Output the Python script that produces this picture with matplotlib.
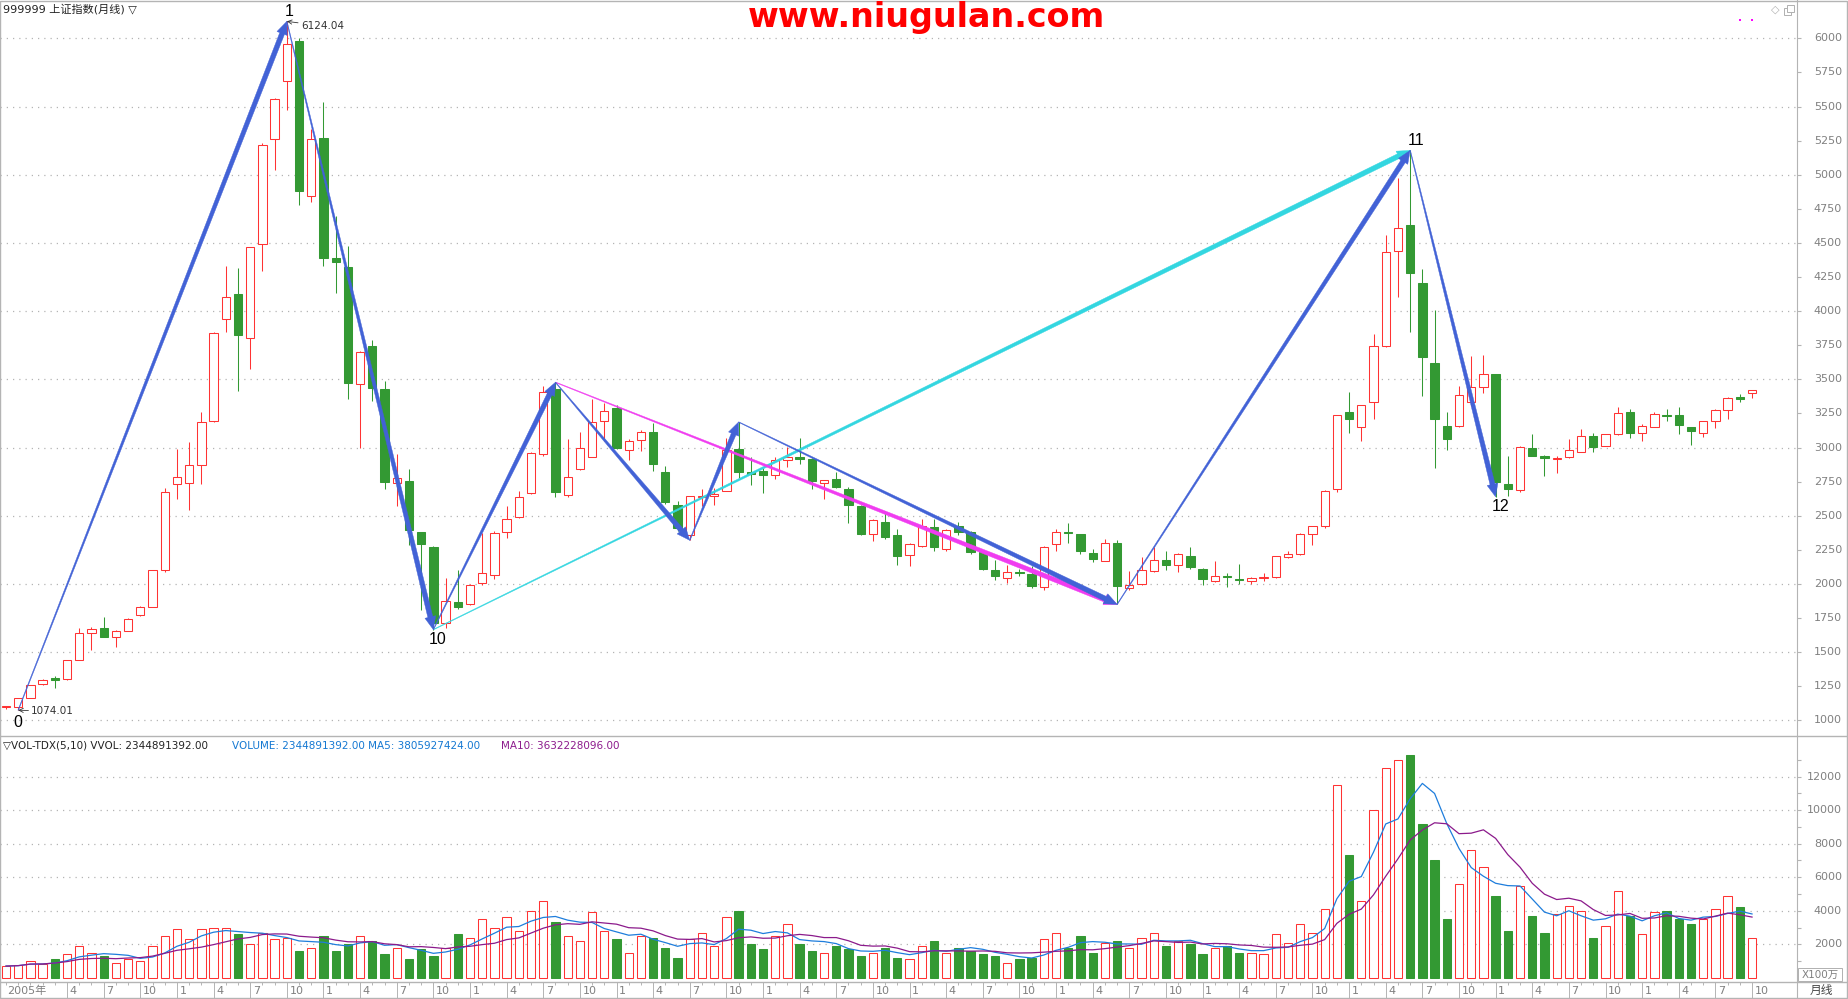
import numpy as np
import pandas as pd
import matplotlib
matplotlib.use("Agg")
import matplotlib.pyplot as plt
from matplotlib.patches import Rectangle, Polygon
from matplotlib.lines import Line2D

plt.rcParams['font.family'] = ['DejaVu Sans', 'Noto Sans CJK SC']

# monthly bars 2005-11 .. 2017-10
months = pd.period_range('2005-11', '2017-10', freq='M')

opens = [1096, 1099,
         1163, 1265, 1300, 1300, 1445, 1637, 1675, 1613, 1658, 1772, 1834, 2099,
         2733, 2743, 2874, 3194, 3941, 4127, 3803, 4492, 5263, 5687, 5979, 4843,
         5267, 4392, 4323, 3463, 3745, 3428, 2743, 2753, 2381, 2271, 1715, 1868,
         1854, 2007, 2063, 2378, 2490, 2666, 2951, 3427, 2649, 2841, 2934, 3195,
         3288, 2983, 3056, 3117, 2822, 2580, 2361, 2636, 2641, 2683, 2988, 2812,
         2829, 2800, 2910, 2929, 2915, 2739, 2771, 2695, 2568, 2368, 2454, 2360,
         2210, 2280, 2416, 2255, 2421, 2377, 2234, 2102, 2044, 2090, 2075, 1978,
         2294, 2380, 2365, 2226, 2170, 2299, 1971, 2000, 2093, 2178, 2136, 2207,
         2112, 2019, 2055, 2032, 2019, 2044, 2051, 2197, 2219, 2365, 2421, 2695,
         3258, 3148, 3331, 3745, 4437, 4632, 4208, 3616, 3158, 3158, 3336, 3441,
         3538, 2732, 2690, 2995, 2941, 2914, 2929, 2970, 3085, 3014, 3100, 3258,
         3104, 3153, 3238, 3238, 3148, 3104, 3192, 3275, 3372, 3402]
highs = [1104, 1165,
         1262, 1303, 1324, 1445, 1678, 1686, 1757, 1662, 1752, 1840, 2101, 2701,
         2987, 3039, 3263, 3848, 4330, 4316, 4471, 5232, 5560, 6124.04, 6005, 5336,
         5532, 4699, 4478, 3707, 3790, 3487, 2949, 2839, 2381, 2275, 2047, 2105,
         2000, 2373, 2385, 2568, 2683, 2965, 3451, 3478.01, 3063, 3117, 3354, 3329,
         3312, 3060, 3125, 3178, 2866, 2605, 2645, 2695, 2702, 3068, 3186.72, 2934,
         2850, 2934, 3002, 3068, 2925, 2765, 2824, 2710, 2575, 2475, 2532, 2400,
         2300, 2478, 2477, 2405, 2453, 2385, 2240, 2178, 2136, 2112, 2129, 2276,
         2400, 2445, 2365, 2255, 2330, 2319, 2092, 2195, 2268, 2243, 2230, 2268,
         2120, 2170, 2080, 2148, 2052, 2080, 2205, 2238, 2370, 2425, 2686, 3240,
         3404, 3312, 3830, 4561, 4976, 5178.19, 4310, 4006, 3258, 3450, 3670, 3677,
         3540, 2939, 3010, 3100, 2945, 2935, 3061, 3134, 3109, 3100, 3294, 3282,
         3170, 3258, 3282, 3299, 3150, 3195, 3280, 3370, 3392, 3421]
lows = [1082, 1074.01,
        1160, 1258, 1238, 1295, 1440, 1514, 1610, 1541, 1655, 1768, 1830, 2089,
        2619, 2543, 2729, 3190, 3848, 3414, 3573, 4292, 5036, 5473, 4778, 4802,
        4330, 4130, 3356, 2994, 3339, 2698, 2571, 2288, 1806, 1664.93, 1679, 1814,
        1844, 1995, 2037, 2337, 2481, 2660, 2940, 2639, 2639, 2835, 2930, 3049,
        2990, 2905, 2978, 2827, 2588, 2385, 2319.74, 2568, 2578, 2680, 2774, 2727,
        2666, 2768, 2856, 2878, 2695, 2622, 2700, 2446, 2360, 2312, 2330, 2137,
        2132, 2270, 2243, 2242, 2360, 2220, 2100, 2030, 2007, 2061, 1971, 1959,
        2243, 2299, 2220, 2160, 2165, 1849.65, 1959, 1995, 2088, 2100, 2085, 2110,
        1990, 2015, 1974, 2002, 2000, 2024, 2045, 2190, 2210, 2282, 2410, 2671,
        3104, 3051, 3207, 3740, 4103, 3847, 3380, 2853, 2982, 3150, 3307, 3402,
        2638.30, 2641, 2671, 2935, 2788, 2812, 2925, 2965, 2970, 3010, 3095, 3073,
        3051, 3150, 3197, 3100, 3019, 3080, 3146, 3207, 3336, 3360]
closes = [1099, 1161,
          1258, 1292, 1298, 1440, 1641, 1672, 1613, 1658, 1745, 1834, 2099, 2671,
          2781, 2874, 3184, 3838, 4106, 3827, 4471, 5215, 5552, 5955, 4878, 5260,
          4389, 4361, 3476, 3697, 3438, 2746, 2777, 2398, 2295, 1715, 1875, 1832,
          1993, 2080, 2373, 2476, 2634, 2959, 3410, 2671, 2783, 2995, 3190, 3271,
          2993, 3051, 3112, 2878, 2598, 2410, 2641, 2641, 2658, 2983, 2824, 2807,
          2795, 2910, 2929, 2919, 2751, 2759, 2707, 2576, 2366, 2466, 2344, 2202,
          2293, 2428, 2268, 2397, 2380, 2234, 2107, 2056, 2085, 2080, 1983, 2270,
          2384, 2374, 2238, 2183, 2299, 1983, 1995, 2105, 2178, 2141, 2219, 2122,
          2039, 2061, 2051, 2029, 2044, 2051, 2202, 2219, 2365, 2421, 2681, 3236,
          3212, 3309, 3745, 4432, 4608, 4279, 3665, 3209, 3060, 3382, 3441, 3536,
          2744, 2695, 3002, 2941, 2922, 2926, 2982, 3085, 3007, 3097, 3251, 3109,
          3158, 3243, 3230, 3163, 3124, 3192, 3275, 3365, 3353, 3419]
# volume, x100万
volumes = [700, 750,
           1000, 850, 1100, 1400, 1900, 1500, 1300, 900, 1100, 1000, 1900, 2500,
           2900, 2300, 2900, 3000, 3000, 2600, 2000, 2700, 2300, 2400, 1600, 1800,
           2500, 1600, 2000, 2500, 2200, 1400, 1800, 1100, 1700, 1300, 1800, 2600,
           2400, 3500, 3000, 3600, 2800, 4000, 4600, 3300, 2500, 2200, 3900, 2800,
           2300, 1500, 2500, 2400, 1800, 1200, 2300, 2700, 1900, 3600, 4000, 2000,
           1700, 2500, 3200, 2000, 1600, 1500, 1900, 1700, 1300, 1500, 1800, 1200,
           1100, 1900, 2200, 1500, 1800, 1600, 1400, 1300, 900, 1100, 1200, 2300,
           2700, 1800, 2500, 1500, 2100, 2200, 1800, 2400, 2700, 1900, 2200, 2000,
           1400, 1800, 1900, 1500, 1500, 1400, 2600, 2100, 3200, 2700, 4100, 11500,
           7300, 4600, 10000, 12500, 13000, 13300, 9200, 7000, 3500, 5600, 7600, 6600,
           4900, 2800, 5500, 3700, 2700, 3800, 4300, 4000, 2400, 3100, 5200, 3700,
           2600, 3900, 4000, 3500, 3200, 3500, 4100, 4900, 4200, 2345]

# zigzag turning points (month, price)
pivot_names = ['0', '1', '10', 'a', 'b', 'c', 'd', '11', '12']
pivot_months = ['2005-12', '2007-10', '2008-10', '2009-08', '2010-07',
                '2010-11', '2013-06', '2015-06', '2016-01']
pivot_prices = [1074.01, 6124.04, 1664.93, 3478.01, 2319.74,
                3186.72, 1849.65, 5178.19, 2638.30]
blue_legs = [('0', '1'), ('1', '10'), ('10', 'a'), ('a', 'b'), ('b', 'c'),
             ('c', 'd'), ('d', '11'), ('11', '12')]
pink_legs = [('a', 'd')]
cyan_legs = [('10', '11')]

RED = '#ff3333'
GREEN = '#339933'
GREY = '#808080'
GRID = '#b4b4b4'
BLUE_ARROW = '#4262d6'

W, H = 1848, 999
fig = plt.figure(figsize=(W / 100, H / 100), dpi=100)
fig.patch.set_facecolor('white')


def box(x0, y0, x1, y1):
    return [x0 / W, 1 - y1 / H, (x1 - x0) / W, (y1 - y0) / H]


AXR = 1797
ax = fig.add_axes(box(0, 0, AXR, 736))
axv = fig.add_axes(box(0, 736, AXR, 982))
axd = fig.add_axes(box(0, 982, AXR, 998))

n = len(months)
x = np.arange(n)
step = 12.21
xlim = (-6 / step, (AXR - 6) / step)
for a in (ax, axv, axd):
    a.set_xlim(*xlim)
    a.set_facecolor('white')
    for s in ('top', 'left', 'bottom'):
        a.spines[s].set_visible(False)
    a.spines['right'].set_color(GRID)
    a.set_xticks([])
ax.set_ylim(885, 6000 + 38.3 / 0.1364)
axv.set_ylim(-251, 14429)
axd.set_ylim(0, 1)
axd.set_yticks([])

bw = 0.68
lw = 0.75
for i in range(n):
    o, h, l, c = opens[i], highs[i], lows[i], closes[i]
    top, bot = max(o, c), min(o, c)
    if c >= o:
        ax.vlines(i, top, h, color=RED, lw=lw)
        ax.vlines(i, l, bot, color=RED, lw=lw)
        ax.add_patch(Rectangle((i - bw / 2, bot), bw, max(top - bot, 8),
                               fc='white', ec=RED, lw=lw, zorder=3))
        axv.add_patch(Rectangle((i - bw / 2, 0), bw, volumes[i],
                                fc='white', ec=RED, lw=lw, zorder=2))
    else:
        ax.vlines(i, l, h, color=GREEN, lw=lw)
        ax.add_patch(Rectangle((i - bw / 2, bot), bw, max(top - bot, 10),
                               fc=GREEN, ec=GREEN, lw=lw, zorder=3))
        axv.add_patch(Rectangle((i - bw / 2, 0), bw, volumes[i],
                                fc=GREEN, ec=GREEN, lw=lw, zorder=2))

vol = pd.Series(volumes, dtype=float)
axv.plot(x, vol.rolling(5, min_periods=1).mean(), color='#1e7ddc', lw=0.9, zorder=4)
axv.plot(x, vol.rolling(10, min_periods=1).mean(), color='#8b1a8b', lw=0.9, zorder=4)

# dotted grid
for y in range(1000, 6001, 500):
    ax.axhline(y, color=GRID, lw=0.9, ls=(0, (1, 4)), zorder=0)
for y in range(2000, 12001, 2000):
    axv.axhline(y, color=GRID, lw=0.9, ls=(0, (1, 4)), zorder=0)

# right axis ticks + labels
ax.yaxis.tick_right()
ax.set_yticks(range(1000, 6001, 250))
ax.tick_params(axis='y', length=3, color=GRID, labelright=False)
for y in range(1000, 6001, 250):
    ax.text(1842 / AXR, y, str(y), transform=ax.get_yaxis_transform(),
            ha='right', va='center', fontsize=8, color=GREY, clip_on=False)
axv.yaxis.tick_right()
axv.set_yticks(range(1000, 13001, 1000))
axv.tick_params(axis='y', length=3, color=GRID, labelright=False)
for y in range(2000, 12001, 2000):
    axv.text(1842 / AXR, y, str(y), transform=axv.get_yaxis_transform(),
             ha='right', va='center', fontsize=8, color=GREY, clip_on=False)

# month strip
axd.vlines(x, 0.8, 1.0, color=GRID, lw=0.7)
for i, m in enumerate(months):
    if i == 0:
        axd.text(7 / AXR, 0.45, '%d年' % m.year, transform=axd.transAxes,
                 ha='left', va='center', fontsize=8, color=GREY)
    elif i > 3 and m.month in (1, 4, 7, 10):
        axd.vlines(i, 0, 1, color=GRID, lw=0.7)
        axd.text(i + 2.5 / step, 0.45, str(m.month), ha='left', va='center',
                 fontsize=8, color=GREY)

# tapered zigzag arrows
pos = {k: (months.get_loc(pd.Period(m, 'M')), p)
       for k, m, p in zip(pivot_names, pivot_months, pivot_prices)}


def arrow(p0, p1, color, w0=0.6, w1=5.0, hl=13.0, hw=5.5):
    a = ax.transData.transform(p0)
    b = ax.transData.transform(p1)
    u = (b - a) / np.hypot(*(b - a))
    nrm = np.array([-u[1], u[0]])
    base = b - u * hl
    pts = [a + nrm * w0 / 2, base + nrm * w1 / 2, base + nrm * hw, b,
           base - nrm * hw, base - nrm * w1 / 2, a - nrm * w0 / 2]
    pts = ax.transData.inverted().transform(np.array(pts))
    ax.add_patch(Polygon(pts, closed=True, fc=color, ec=color, lw=0.3, zorder=6))


for s, e in cyan_legs:
    arrow(pos[s], pos[e], '#33d6e0')
for s, e in pink_legs:
    arrow(pos[s], pos[e], '#f03cf0')
for s, e in blue_legs:
    arrow(pos[s], pos[e], BLUE_ARROW)

for k, off in [('0', (0, -12)), ('1', (2, 10)), ('10', (4, -10)),
               ('11', (6, 10)), ('12', (5, -10))]:
    ax.annotate(k, pos[k], xytext=off, textcoords='offset pixels',
                ha='center', va='center', fontsize=11.5, color='black',
                family='Liberation Sans', zorder=7)

for k, off in [('1', (14, -4.5)), ('0', (13, -1))]:
    ax.annotate('%.2f' % pos[k][1], pos[k], xytext=off, textcoords='offset pixels',
                ha='left', va='center', fontsize=7.5, color='#333333', zorder=7,
                arrowprops=dict(arrowstyle='->', color='#333333', lw=0.6,
                                shrinkA=0, shrinkB=0))

# header texts
fig.text(3 / W, 1 - 9 / H, '999999 上证指数(月线) ▽', ha='left', va='center',
         fontsize=8, color='#222222')
fig.text(926 / W, 1 - 18 / H, 'www.niugulan.com', ha='center', va='center',
         fontsize=24, fontweight='heavy', color='#ff0000')
fig.text(1775 / W, 1 - 10 / H, '◇', ha='center', va='center', fontsize=8, color='#b0b0b0')
fig.add_artist(Rectangle(((1784) / W, 1 - 15 / H), 7 / W, 7 / H, transform=fig.transFigure,
                         fill=False, ec='#b0b0b0', lw=0.7))
fig.add_artist(Rectangle(((1787) / W, 1 - 12 / H), 7 / W, 7 / H, transform=fig.transFigure,
                         fc='white', ec='#b0b0b0', lw=0.7))
for xx in (1739, 1751):
    fig.add_artist(Rectangle((xx / W, 1 - 21 / H), 2 / W, 2 / H, transform=fig.transFigure,
                             fc='#ff00ff', ec='none'))

fig.text(3 / W, 1 - 746 / H, '▽VOL-TDX(5,10) VVOL: 2344891392.00', ha='left', va='center',
         fontsize=7.5, color='#222222')
fig.text(232 / W, 1 - 746 / H, 'VOLUME: 2344891392.00 MA5: 3805927424.00', ha='left',
         va='center', fontsize=7.5, color='#1478d2')
fig.text(501 / W, 1 - 746 / H, 'MA10: 3632228096.00', ha='left', va='center',
         fontsize=7.5, color='#8c1a8c')

fig.add_artist(Rectangle((1798 / W, 1 - 981 / H), 44 / W, 13 / H, transform=fig.transFigure,
                         fill=False, ec='#b0b0b0', lw=0.7))
fig.text(1820 / W, 1 - 974.5 / H, 'X100万', ha='center', va='center', fontsize=7.5, color=GREY)
fig.text(1821 / W, 1 - 990 / H, '月线', ha='center', va='center', fontsize=8.5, color='#444444')

# frame lines
for yy in (736, 982):
    fig.add_artist(Line2D([0, 1], [1 - yy / H, 1 - yy / H], transform=fig.transFigure,
                          color=GRID, lw=1))
fig.add_artist(Rectangle((0, 0.001), 0.9995, 0.998, transform=fig.transFigure,
                         fill=False, ec=GRID, lw=1))

fig.savefig('out.png', dpi=100, facecolor='white')
